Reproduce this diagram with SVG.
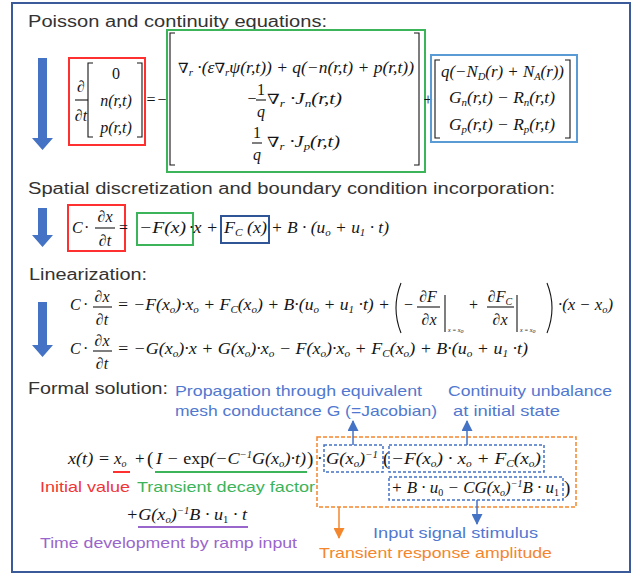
<svg xmlns="http://www.w3.org/2000/svg" width="644" height="577" viewBox="0 0 644 577">
<style>
.m{font-family:"Liberation Serif","Times New Roman",serif;font-style:italic;font-size:16px;fill:#151515}
.u{font-style:normal}
.s{font-size:10px}
.nb{font-family:"DejaVu Serif","Liberation Serif",serif;font-style:normal;font-size:14px}
.t{font-family:"Liberation Sans",Arial,sans-serif;font-size:16px;fill:#333}
.lab{font-family:"Liberation Sans",Arial,sans-serif;font-size:15px}
.ln{stroke:#151515;stroke-width:1.1;fill:none}
.big{fill:#4472c4}
.bx{fill:none;stroke-width:2}
.db{fill:none;stroke:#4472c4;stroke-width:1.5;stroke-dasharray:3 2}
</style>
<defs>
<marker id="ab" markerUnits="userSpaceOnUse" markerWidth="11" markerHeight="11" refX="10" refY="5.5" orient="auto"><path d="M0,0 L11,5.5 L0,11 Z" fill="#4472c4"/></marker>
<marker id="ao" markerUnits="userSpaceOnUse" markerWidth="11" markerHeight="11" refX="10" refY="5.5" orient="auto"><path d="M0,0 L11,5.5 L0,11 Z" fill="#f4862e"/></marker>
</defs>
<rect x="0" y="0" width="644" height="577" fill="#fff"/>
<rect id="frame" x="12" y="3" width="618" height="569" fill="#fff" stroke="#3b5a9a" stroke-width="2"/>

<!-- Section 1 -->
<g id="sec1">
<text class="t" x="28" y="27" textLength="299" lengthAdjust="spacingAndGlyphs">Poisson and continuity equations:</text>
<path class="big" d="M38,58 H47 V138 H53 L42.5,150 L32,138 H38 Z"/>
</g>
<g id="lhs1">
<rect class="bx" x="69" y="58" width="76" height="87" stroke="#ff3030"/>
<text class="m u" x="81" y="92" text-anchor="middle">∂</text>
<line class="ln" x1="75" y1="100" x2="88" y2="100"/>
<text class="m" x="81" y="121" text-anchor="middle">∂t</text>
<path class="ln" d="M93,63 H88 V137 H93 M137,63 H142 V137 H137"/>
<text class="m u" x="116" y="79" text-anchor="middle">0</text>
<text class="m" x="116" y="106" text-anchor="middle">n(r,t)</text>
<text class="m" x="116" y="133" text-anchor="middle">p(r,t)</text>
</g>
<text class="m u" x="151" y="105" text-anchor="middle">=</text>
<text class="m u" x="162" y="105" text-anchor="middle">−</text>
<g id="mid1">
<rect class="bx" x="167" y="30" width="258" height="142" stroke="#3cb45a"/>
<path class="ln" d="M175,33 H170 V165 H175 M414,33 H419 V165 H414"/>
<text class="m" x="178" y="73" textLength="236" lengthAdjust="spacingAndGlyphs"><tspan class="nb">∇</tspan><tspan class="s" dy="3">r</tspan><tspan dy="-3"> ·(ε</tspan><tspan class="nb">∇</tspan><tspan class="s" dy="3">r</tspan><tspan dy="-3">ψ(r,t)) + q(−n(r,t) + p(r,t))</tspan></text>
<text class="m u" x="252" y="104" text-anchor="middle">−</text>
<text class="m u" x="261" y="95" text-anchor="middle">1</text>
<line class="ln" x1="256" y1="100" x2="266" y2="100"/>
<text class="m" x="261" y="117" text-anchor="middle">q</text>
<text class="m" x="267" y="104" textLength="75" lengthAdjust="spacingAndGlyphs"><tspan class="nb">∇</tspan><tspan class="s" dy="3">r</tspan><tspan dy="-3"> ·J</tspan><tspan class="s" dy="3">n</tspan><tspan dy="-3">(r,t)</tspan></text>
<text class="m u" x="257" y="138" text-anchor="middle">1</text>
<line class="ln" x1="252" y1="143" x2="262" y2="143"/>
<text class="m" x="257" y="160" text-anchor="middle">q</text>
<text class="m" x="267" y="147" textLength="73" lengthAdjust="spacingAndGlyphs"><tspan class="nb">∇</tspan><tspan class="s" dy="3">r</tspan><tspan dy="-3"> ·J</tspan><tspan class="s" dy="3">p</tspan><tspan dy="-3">(r,t)</tspan></text>
</g>
<text class="m u" x="428" y="105" text-anchor="middle">+</text>
<g id="rhs1">
<rect class="bx" x="431" y="55" width="146" height="87" stroke="#5b9bd5"/>
<path class="ln" d="M440,60 H435 V138 H440 M565,60 H570 V138 H565"/>
<text class="m" x="441" y="77" textLength="123" lengthAdjust="spacingAndGlyphs">q(−N<tspan class="s" dy="3">D</tspan><tspan dy="-3">(r) + N</tspan><tspan class="s" dy="3">A</tspan><tspan dy="-3">(r))</tspan></text>
<text class="m" x="449" y="103" textLength="106" lengthAdjust="spacingAndGlyphs">G<tspan class="s" dy="3">n</tspan><tspan dy="-3">(r,t) − R</tspan><tspan class="s" dy="3">n</tspan><tspan dy="-3">(r,t)</tspan></text>
<text class="m" x="449" y="130" textLength="106" lengthAdjust="spacingAndGlyphs">G<tspan class="s" dy="3">p</tspan><tspan dy="-3">(r,t) − R</tspan><tspan class="s" dy="3">p</tspan><tspan dy="-3">(r,t)</tspan></text>
</g>

<!-- Section 2 -->
<g id="sec2">
<text class="t" x="28" y="194" textLength="527" lengthAdjust="spacingAndGlyphs">Spatial discretization and boundary condition incorporation:</text>
<path class="big" d="M38,208 H47 V235 H53 L42.5,247 L32,235 H38 Z"/>
</g>
<g id="lhs2">
<rect class="bx" x="68" y="205" width="57" height="46" stroke="#ff3030"/>
<text class="m" x="72" y="233">C</text>
<text class="m u" x="84" y="233">·</text>
<text class="m" x="105" y="222" text-anchor="middle">∂x</text>
<line class="ln" x1="95" y1="228" x2="115" y2="228"/>
<text class="m" x="105" y="246" text-anchor="middle">∂t</text>
</g>
<text class="m u" x="119" y="233">=</text>
<g id="f2">
<rect class="bx" x="137" y="213" width="56" height="32" stroke="#3cb45a"/>
<text class="m" x="139" y="233" textLength="47" lengthAdjust="spacingAndGlyphs">−F(x)</text>
</g>
<text class="m" x="189" y="233" textLength="29" lengthAdjust="spacingAndGlyphs">·x +</text>
<g id="fc2">
<rect class="bx" x="221" y="216" width="48" height="27" stroke="#2f5597"/>
<text class="m" x="224" y="233" textLength="43" lengthAdjust="spacingAndGlyphs">F<tspan class="s" dy="3">C</tspan><tspan dy="-3"> (x)</tspan></text>
</g>
<text class="m" x="271" y="233" textLength="118" lengthAdjust="spacingAndGlyphs">+ B · (u<tspan class="s" dy="3">o</tspan><tspan dy="-3"> + u</tspan><tspan class="s" dy="3">1</tspan><tspan dy="-3"> · t)</tspan></text>

<!-- Section 3 -->
<g id="sec3">
<text class="t" x="29" y="280" textLength="118" lengthAdjust="spacingAndGlyphs">Linearization:</text>
<path class="big" d="M38,302 H47 V345 H53 L42.5,357 L32,345 H38 Z"/>
</g>
<g id="lin1">
<text class="m" x="70" y="310">C</text>
<text class="m u" x="83" y="310">·</text>
<text class="m" x="102" y="302" text-anchor="middle">∂x</text>
<line class="ln" x1="93" y1="307" x2="112" y2="307"/>
<text class="m" x="102" y="325" text-anchor="middle">∂t</text>
<text class="m" x="117" y="310" textLength="273" lengthAdjust="spacingAndGlyphs">= −F(x<tspan class="s" dy="3">o</tspan><tspan dy="-3">)·x</tspan><tspan class="s" dy="3">o</tspan><tspan dy="-3"> + F</tspan><tspan class="s" dy="3">C</tspan><tspan dy="-3">(x</tspan><tspan class="s" dy="3">o</tspan><tspan dy="-3">) + B·(u</tspan><tspan class="s" dy="3">o</tspan><tspan dy="-3"> + u</tspan><tspan class="s" dy="3">1</tspan><tspan dy="-3"> ·t) +</tspan></text>
<path class="ln" d="M401,283 Q391,308 401,333"/>
<text class="m u" x="404" y="310">−</text>
<text class="m" x="428" y="302" text-anchor="middle">∂F</text>
<line class="ln" x1="417" y1="307" x2="440" y2="307"/>
<text class="m" x="429" y="325" text-anchor="middle">∂x</text>
<line class="ln" x1="445" y1="295" x2="445" y2="332"/>
<text class="m" x="448" y="332" style="font-size:6px">x = x<tspan dy="1">o</tspan></text>
<text class="m u" x="469" y="310">+</text>
<text class="m" x="500" y="302" text-anchor="middle">∂F<tspan class="s" dy="3">C</tspan></text>
<line class="ln" x1="487" y1="307" x2="514" y2="307"/>
<text class="m" x="500" y="325" text-anchor="middle">∂x</text>
<line class="ln" x1="517" y1="295" x2="517" y2="332"/>
<text class="m" x="520" y="332" style="font-size:6px">x = x<tspan dy="1">o</tspan></text>
<path class="ln" d="M547,283 Q557,308 547,333"/>
<text class="m" x="558" y="310" textLength="55" lengthAdjust="spacingAndGlyphs">·(x − x<tspan class="s" dy="3">o</tspan><tspan dy="-3">)</tspan></text>
</g>
<g id="lin2">
<text class="m" x="70" y="354">C</text>
<text class="m u" x="83" y="354">·</text>
<text class="m" x="102" y="346" text-anchor="middle">∂x</text>
<line class="ln" x1="93" y1="351" x2="112" y2="351"/>
<text class="m" x="102" y="369" text-anchor="middle">∂t</text>
<text class="m" x="117" y="354" textLength="411" lengthAdjust="spacingAndGlyphs">= −G(x<tspan class="s" dy="3">o</tspan><tspan dy="-3">)·x + G(x</tspan><tspan class="s" dy="3">o</tspan><tspan dy="-3">)·x</tspan><tspan class="s" dy="3">o</tspan><tspan dy="-3"> − F(x</tspan><tspan class="s" dy="3">o</tspan><tspan dy="-3">)·x</tspan><tspan class="s" dy="3">o</tspan><tspan dy="-3"> + F</tspan><tspan class="s" dy="3">C</tspan><tspan dy="-3">(x</tspan><tspan class="s" dy="3">o</tspan><tspan dy="-3">) + B·(u</tspan><tspan class="s" dy="3">o</tspan><tspan dy="-3"> + u</tspan><tspan class="s" dy="3">1</tspan><tspan dy="-3"> ·t)</tspan></text>
</g>

<!-- Section 4 -->
<g id="sec4">
<text class="t" x="28" y="394" textLength="140" lengthAdjust="spacingAndGlyphs">Formal solution:</text>
</g>
<g id="lblProp" class="lab" fill="#5078d0">
<text x="175" y="396" textLength="247" lengthAdjust="spacingAndGlyphs">Propagation through equivalent</text>
<text x="175" y="416" textLength="262" lengthAdjust="spacingAndGlyphs">mesh conductance G (=Jacobian)</text>
</g>
<g id="lblCont" class="lab" fill="#5078d0">
<text x="448" y="396" textLength="164" lengthAdjust="spacingAndGlyphs">Continuity unbalance</text>
<text x="453" y="416" textLength="107" lengthAdjust="spacingAndGlyphs">at initial state</text>
</g>
<g id="sol">
<text class="m" x="68" y="464" style="font-size:17px" textLength="42" lengthAdjust="spacingAndGlyphs">x(t) =</text>
<text class="m" x="114" y="464" style="font-size:17px">x<tspan class="s" dy="3">o</tspan></text>
<text class="m u" x="135" y="464" style="font-size:17px">+</text>
<text class="m u" x="147" y="465" style="font-size:19px">(</text>
<text class="m" x="156" y="464" style="font-size:17px" textLength="150" lengthAdjust="spacingAndGlyphs">I − <tspan class="u">exp</tspan>(−C<tspan class="s" dy="-6">−1</tspan><tspan dy="6">G(x</tspan><tspan class="s" dy="3">o</tspan><tspan dy="-3">)·t)</tspan></text>
<text class="m u" x="307" y="465" style="font-size:19px">)</text>
<text class="m u" x="317" y="464" style="font-size:17px">·</text>
<text class="m" x="391" y="493" style="font-size:17px" textLength="168" lengthAdjust="spacingAndGlyphs">+ B · u<tspan class="s u" dy="3">0</tspan><tspan dy="-3"> − CG(x</tspan><tspan class="s" dy="3">o</tspan><tspan dy="-3">)</tspan><tspan class="s" dy="-6">−1</tspan><tspan dy="6">B · u</tspan><tspan class="s u" dy="3">1</tspan></text>
<text class="m u" x="564" y="494" style="font-size:19px">)</text>
<text class="m u" x="383" y="465" style="font-size:19px">(</text>
</g>
<g id="boxG">
<rect class="db" x="324" y="445" width="59" height="27"/>
<text class="m" x="326" y="464" style="font-size:17px" textLength="52" lengthAdjust="spacingAndGlyphs">G(x<tspan class="s" dy="3">o</tspan><tspan dy="-3">)</tspan><tspan class="s" dy="-6">−1</tspan></text>
</g>
<g id="boxU">
<rect class="db" x="389" y="445" width="155" height="27"/>
<text class="m" x="391" y="464" style="font-size:17px" textLength="150" lengthAdjust="spacingAndGlyphs">−F(x<tspan class="s" dy="3">o</tspan><tspan dy="-3">) · x</tspan><tspan class="s" dy="3">o</tspan><tspan dy="-3"> + F</tspan><tspan class="s" dy="3">C</tspan><tspan dy="-3">(x</tspan><tspan class="s" dy="3">o</tspan><tspan dy="-3">)</tspan></text>
</g>
<g id="boxIn">
<rect class="db" x="389" y="477" width="174" height="23"/>
</g>
<g id="boxAmp">
<rect x="317" y="437" width="259" height="70" fill="none" stroke="#f4862e" stroke-width="1.5" stroke-dasharray="4 2"/>
</g>
<g id="ramp">
<text class="m" x="126" y="520" style="font-size:17px" textLength="121" lengthAdjust="spacingAndGlyphs">+G(x<tspan class="s" dy="3">o</tspan><tspan dy="-3">)</tspan><tspan class="s" dy="-6">−1</tspan><tspan dy="6">B · u</tspan><tspan class="s u" dy="3">1</tspan><tspan dy="-3"> · t</tspan></text>
</g>
<g id="underlines" stroke-width="2">
<line x1="113" y1="472" x2="130" y2="472" stroke="#ff3030"/>
<line x1="155" y1="472" x2="307" y2="472" stroke="#3cb45a"/>
<line x1="138" y1="527" x2="248" y2="527" stroke="#9966cc"/>
</g>
<g id="lblInit"><text class="lab" x="40" y="492" fill="#f03535" textLength="90" lengthAdjust="spacingAndGlyphs">Initial value</text></g>
<g id="lblDecay"><text class="lab" x="137" y="492" fill="#3cb45a" textLength="178" lengthAdjust="spacingAndGlyphs">Transient decay factor</text></g>
<g id="lblRamp"><text class="lab" x="40" y="548" fill="#9966cc" textLength="257" lengthAdjust="spacingAndGlyphs">Time development by ramp input</text></g>
<g id="lblInput"><text class="lab" x="373" y="538" fill="#5078d0" textLength="165" lengthAdjust="spacingAndGlyphs">Input signal stimulus</text></g>
<g id="lblAmp"><text class="lab" x="319" y="558" fill="#f4862e" textLength="233" lengthAdjust="spacingAndGlyphs">Transient response amplitude</text></g>

<g id="connectors" stroke-width="1.5">
<line x1="353" y1="445" x2="353" y2="421" stroke="#4472c4" marker-end="url(#ab)"/>
<line x1="467" y1="445" x2="467" y2="421" stroke="#4472c4" marker-end="url(#ab)"/>
<line x1="477" y1="500" x2="477" y2="524" stroke="#4472c4" marker-end="url(#ab)"/>
<line x1="339" y1="507" x2="339" y2="538" stroke="#f4862e" marker-end="url(#ao)"/>
</g>
</svg>
